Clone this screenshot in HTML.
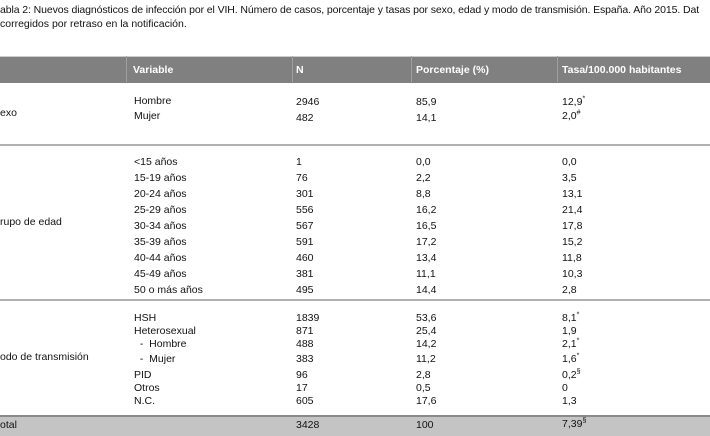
<!DOCTYPE html>
<html><head><meta charset="utf-8"><style>
body{margin:0;width:710px;height:434px;overflow:hidden;background:#fff;font-family:"Liberation Sans",Arial,sans-serif;font-size:10.5px;color:#111;position:relative}
.t{position:absolute;white-space:nowrap;line-height:12px}
.hd{position:absolute;left:0;top:56px;width:710px;height:26px;background:#808080;border-top:1px solid #ccc}
.hd span{position:absolute;top:7px;color:#fff;font-weight:bold;font-size:10.5px}
.vl{position:absolute;top:56px;height:26px;width:1px;background:#a0a0a0}
.ln{position:absolute;left:0;width:710px;height:2px;background:#b0b0b0}
.tot{position:absolute;left:0;top:415px;width:710px;height:19px;background:#c4c4c4;border-top:2px solid #8a8a8a}
sup{font-size:7px;line-height:0}
</style></head><body>
<div class="t" style="left:0;top:4px;letter-spacing:-0.1px">abla 2: Nuevos diagnósticos de infección por el VIH. Número de casos, porcentaje y tasas por sexo, edad y modo de transmisión. España. Año 2015. Dat</div>
<div class="t" style="left:0;top:18px">corregidos por retraso en la notificación.</div>
<div class="hd"><span style="left:133px">Variable</span><span style="left:296px">N</span><span style="left:416px">Porcentaje (%)</span><span style="left:562px">Tasa/100.000 habitantes</span></div>
<div class="vl" style="left:126px"></div><div class="vl" style="left:292px"></div><div class="vl" style="left:411px"></div><div class="vl" style="left:557px"></div>
<div class="ln" style="top:144px"></div>
<div class="ln" style="top:299px"></div>
<div class="tot"></div>

<div class="t" style="left:0;top:107px">exo</div>
<div class="t" style="left:0;top:216px">rupo de edad</div>
<div class="t" style="left:0;top:351px">odo de transmisión</div>

<div class="t" style="left:134px;top:95px">Hombre</div><div class="t" style="left:296px;top:96px">2946</div><div class="t" style="left:416px;top:96px">85,9</div><div class="t" style="left:562px;top:96px">12,9<sup>*</sup></div>
<div class="t" style="left:134px;top:110px">Mujer</div><div class="t" style="left:296px;top:112px">482</div><div class="t" style="left:416px;top:112px">14,1</div><div class="t" style="left:562px;top:110px">2,0<sup>#</sup></div>

<div class="t" style="left:134px;top:156px">&lt;15 años</div><div class="t" style="left:296px;top:156px">1</div><div class="t" style="left:416px;top:156px">0,0</div><div class="t" style="left:562px;top:156px">0,0</div>
<div class="t" style="left:134px;top:172px">15-19 años</div><div class="t" style="left:296px;top:172px">76</div><div class="t" style="left:416px;top:172px">2,2</div><div class="t" style="left:562px;top:172px">3,5</div>
<div class="t" style="left:134px;top:188px">20-24 años</div><div class="t" style="left:296px;top:188px">301</div><div class="t" style="left:416px;top:188px">8,8</div><div class="t" style="left:562px;top:188px">13,1</div>
<div class="t" style="left:134px;top:204px">25-29 años</div><div class="t" style="left:296px;top:204px">556</div><div class="t" style="left:416px;top:204px">16,2</div><div class="t" style="left:562px;top:204px">21,4</div>
<div class="t" style="left:134px;top:220px">30-34 años</div><div class="t" style="left:296px;top:220px">567</div><div class="t" style="left:416px;top:220px">16,5</div><div class="t" style="left:562px;top:220px">17,8</div>
<div class="t" style="left:134px;top:236px">35-39 años</div><div class="t" style="left:296px;top:236px">591</div><div class="t" style="left:416px;top:236px">17,2</div><div class="t" style="left:562px;top:236px">15,2</div>
<div class="t" style="left:134px;top:252px">40-44 años</div><div class="t" style="left:296px;top:252px">460</div><div class="t" style="left:416px;top:252px">13,4</div><div class="t" style="left:562px;top:252px">11,8</div>
<div class="t" style="left:134px;top:268px">45-49 años</div><div class="t" style="left:296px;top:268px">381</div><div class="t" style="left:416px;top:268px">11,1</div><div class="t" style="left:562px;top:268px">10,3</div>
<div class="t" style="left:134px;top:284px">50 o más años</div><div class="t" style="left:296px;top:284px">495</div><div class="t" style="left:416px;top:284px">14,4</div><div class="t" style="left:562px;top:284px">2,8</div>

<div class="t" style="left:134px;top:312px">HSH</div><div class="t" style="left:296px;top:312px">1839</div><div class="t" style="left:416px;top:312px">53,6</div><div class="t" style="left:562px;top:312px">8,1<sup>*</sup></div>
<div class="t" style="left:134px;top:325px">Heterosexual</div><div class="t" style="left:296px;top:325px">871</div><div class="t" style="left:416px;top:325px">25,4</div><div class="t" style="left:562px;top:325px">1,9</div>
<div class="t" style="left:134px;top:338px">&nbsp;&nbsp;-&nbsp;&nbsp;Hombre</div><div class="t" style="left:296px;top:338px">488</div><div class="t" style="left:416px;top:338px">14,2</div><div class="t" style="left:562px;top:338px">2,1<sup>*</sup></div>
<div class="t" style="left:134px;top:353px">&nbsp;&nbsp;-&nbsp;&nbsp;Mujer</div><div class="t" style="left:296px;top:353px">383</div><div class="t" style="left:416px;top:353px">11,2</div><div class="t" style="left:562px;top:353px">1,6<sup>*</sup></div>
<div class="t" style="left:134px;top:369px">PID</div><div class="t" style="left:296px;top:369px">96</div><div class="t" style="left:416px;top:369px">2,8</div><div class="t" style="left:562px;top:369px">0,2<sup>§</sup></div>
<div class="t" style="left:134px;top:382px">Otros</div><div class="t" style="left:296px;top:382px">17</div><div class="t" style="left:416px;top:382px">0,5</div><div class="t" style="left:562px;top:382px">0</div>
<div class="t" style="left:134px;top:395px">N.C.</div><div class="t" style="left:296px;top:395px">605</div><div class="t" style="left:416px;top:395px">17,6</div><div class="t" style="left:562px;top:395px">1,3</div>

<div class="t" style="left:0;top:419px">otal</div><div class="t" style="left:296px;top:419px">3428</div><div class="t" style="left:416px;top:419px">100</div><div class="t" style="left:562px;top:418px">7,39<sup>§</sup></div>
</body></html>
